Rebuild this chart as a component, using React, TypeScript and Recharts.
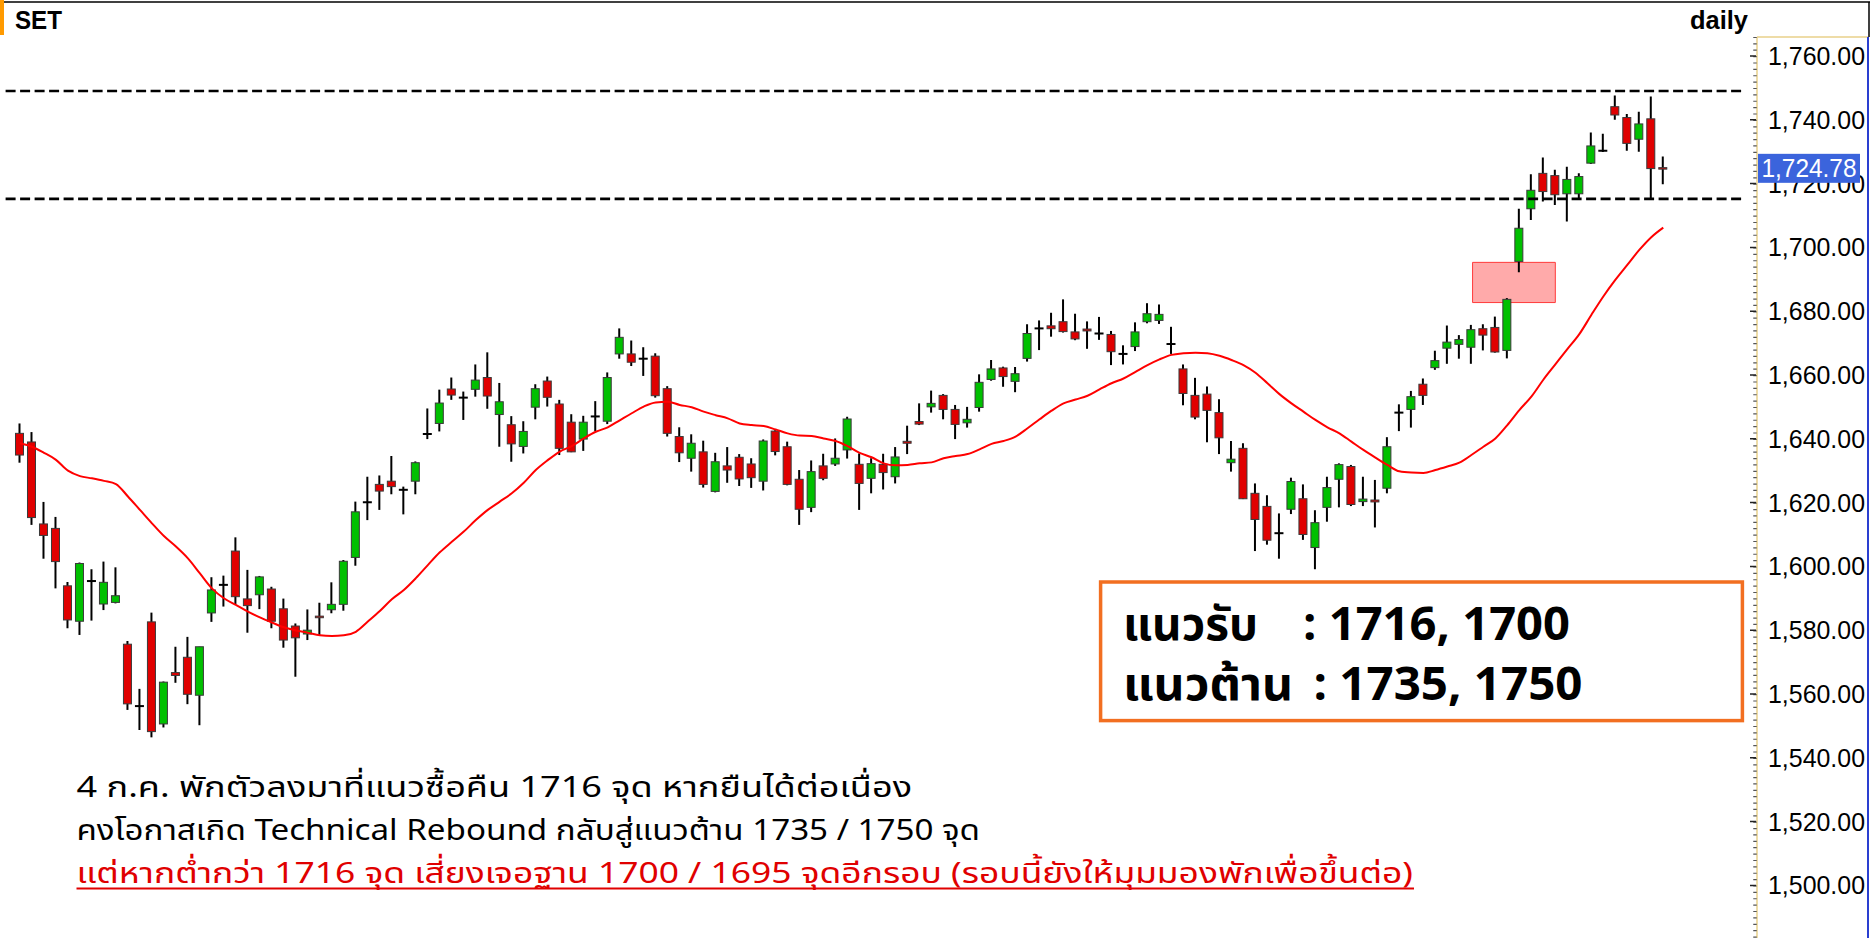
import { ComposedChart, Bar, Line, XAxis, YAxis, ReferenceLine, ReferenceArea } from "recharts";

const opens = [
  1641.7, 1639.0, 1613.3, 1611.9, 1593.9, 1582.8, 1595.4, 1588.2, 1588.7, 1575.6,
  1556.2, 1582.6, 1550.6, 1566.7, 1571.5, 1559.6, 1585.4, 1594.2, 1604.8, 1589.8,
  1591.1, 1592.9, 1586.7, 1581.3, 1578.8, 1584.4, 1586.4, 1588.1, 1602.8, 1620.1,
  1625.7, 1626.7, 1624.0, 1626.7, 1641.5, 1644.8, 1655.6, 1652.9, 1655.5, 1659.2,
  1647.6, 1644.4, 1637.6, 1649.9, 1658.1, 1650.9, 1645.2, 1639.9, 1647.0, 1645.5,
  1666.6, 1666.6, 1665.1, 1665.9, 1655.7, 1640.7, 1633.9, 1635.9, 1623.5, 1631.5,
  1634.2, 1632.1, 1626.7, 1642.4, 1637.5, 1627.3, 1618.5, 1631.5, 1632.1, 1636.5,
  1632.0, 1627.6, 1632.0, 1628.1, 1639.2, 1645.4, 1650.0, 1653.6, 1649.2, 1645.0,
  1649.8, 1658.6, 1662.2, 1658.0, 1665.2, 1674.6, 1675.4, 1676.7, 1673.5, 1674.4,
  1673.0, 1672.7, 1666.6, 1668.9, 1676.7, 1677.1, 1669.7, 1661.9, 1653.6, 1654.0,
  1648.2, 1632.5, 1637.0, 1622.9, 1618.8, 1610.4, 1617.9, 1621.2, 1605.9, 1618.5,
  1627.3, 1631.3, 1620.3, 1620.8, 1624.5, 1648.2, 1649.2, 1657.1, 1662.3, 1668.4,
  1669.6, 1668.7, 1674.5, 1674.9, 1667.7, 1695.6, 1712.1, 1723.2, 1722.5, 1716.8,
  1716.8, 1726.4, 1730.3, 1744.1, 1740.7, 1733.9, 1740.3, 1725.0,
];

const highs = [
  1644.8, 1642.1, 1620.2, 1615.5, 1595.1, 1601.2, 1599.1, 1601.5, 1599.7, 1576.6,
  1561.6, 1585.5, 1563.9, 1574.8, 1577.9, 1574.8, 1596.6, 1597.1, 1609.1, 1598.9,
  1597.0, 1593.6, 1589.9, 1582.1, 1586.5, 1588.6, 1595.0, 1602.0, 1620.3, 1628.1,
  1628.5, 1634.6, 1625.0, 1632.9, 1649.5, 1655.4, 1659.2, 1654.8, 1663.3, 1667.1,
  1657.5, 1647.1, 1645.5, 1657.1, 1659.5, 1652.2, 1647.7, 1647.2, 1651.8, 1660.8,
  1674.6, 1670.8, 1668.7, 1666.8, 1656.5, 1643.6, 1641.4, 1639.4, 1635.6, 1637.4,
  1635.2, 1633.9, 1639.8, 1642.7, 1639.1, 1630.2, 1633.2, 1635.3, 1640.1, 1646.9,
  1635.4, 1633.9, 1635.3, 1637.4, 1644.1, 1651.1, 1655.1, 1654.0, 1650.6, 1650.0,
  1660.2, 1664.7, 1662.6, 1662.5, 1675.9, 1677.1, 1679.5, 1683.7, 1679.2, 1676.8,
  1678.2, 1673.8, 1669.3, 1676.5, 1682.5, 1682.1, 1675.1, 1663.3, 1659.1, 1656.4,
  1652.4, 1639.3, 1638.6, 1626.0, 1622.3, 1616.6, 1627.8, 1625.7, 1617.6, 1628.1,
  1632.3, 1631.8, 1628.1, 1627.1, 1640.5, 1650.8, 1655.0, 1658.9, 1667.6, 1675.5,
  1672.5, 1675.7, 1675.9, 1678.3, 1684.1, 1712.1, 1722.9, 1728.2, 1724.3, 1725.3,
  1723.2, 1736.0, 1735.6, 1747.6, 1741.8, 1742.5, 1747.3, 1728.5,
];

const lows = [
  1632.5, 1613.0, 1602.4, 1593.1, 1580.6, 1578.5, 1583.0, 1586.3, 1588.4, 1555.0,
  1548.7, 1546.4, 1549.5, 1563.5, 1556.8, 1550.2, 1582.6, 1587.4, 1588.2, 1579.2,
  1586.6, 1580.6, 1574.5, 1565.4, 1576.9, 1578.5, 1585.3, 1586.1, 1600.2, 1614.5,
  1617.7, 1622.6, 1616.3, 1622.6, 1639.9, 1642.3, 1652.2, 1645.9, 1653.2, 1649.4,
  1637.5, 1632.8, 1635.4, 1646.1, 1650.1, 1634.9, 1635.8, 1636.2, 1642.4, 1644.6,
  1665.1, 1662.8, 1659.7, 1652.9, 1640.7, 1632.7, 1629.7, 1624.7, 1623.2, 1626.2,
  1625.2, 1624.6, 1623.8, 1634.8, 1625.4, 1613.0, 1617.0, 1627.0, 1631.5, 1633.8,
  1617.7, 1622.9, 1624.1, 1626.0, 1635.2, 1644.3, 1648.2, 1646.1, 1639.9, 1643.5,
  1648.5, 1658.2, 1656.3, 1654.6, 1664.2, 1667.8, 1672.0, 1673.3, 1670.9, 1668.2,
  1671.0, 1663.1, 1663.3, 1667.5, 1676.2, 1676.0, 1666.6, 1650.5, 1646.1, 1638.9,
  1635.2, 1629.7, 1621.1, 1604.8, 1606.8, 1602.4, 1616.4, 1608.3, 1599.1, 1614.0,
  1618.5, 1618.9, 1618.9, 1612.2, 1622.9, 1642.4, 1643.5, 1650.6, 1661.6, 1663.5,
  1665.1, 1663.5, 1667.7, 1667.0, 1665.2, 1692.2, 1708.6, 1714.4, 1713.3, 1708.1,
  1715.2, 1726.1, 1729.9, 1740.0, 1730.3, 1730.0, 1715.2, 1719.8,
];

const closes = [
  1634.9, 1615.3, 1609.7, 1601.5, 1583.2, 1600.9, 1595.4, 1595.0, 1590.8, 1556.9,
  1556.2, 1548.2, 1563.7, 1565.8, 1559.9, 1574.8, 1592.6, 1594.2, 1590.5, 1587.7,
  1596.7, 1582.8, 1576.9, 1577.6, 1580.0, 1583.9, 1588.1, 1601.6, 1617.1, 1620.1,
  1623.6, 1625.0, 1624.0, 1632.5, 1641.5, 1651.2, 1653.7, 1652.9, 1658.4, 1653.4,
  1651.6, 1638.4, 1642.3, 1655.7, 1653.0, 1637.0, 1635.9, 1645.2, 1647.0, 1659.2,
  1671.8, 1664.0, 1665.1, 1653.5, 1641.7, 1635.6, 1638.6, 1625.7, 1632.8, 1630.2,
  1627.4, 1627.8, 1639.3, 1636.0, 1625.7, 1617.9, 1629.7, 1627.6, 1633.9, 1646.2,
  1626.0, 1632.2, 1629.4, 1634.3, 1638.6, 1644.6, 1651.1, 1649.2, 1644.5, 1646.1,
  1657.7, 1661.9, 1659.5, 1660.4, 1673.0, 1674.6, 1674.5, 1673.6, 1671.3, 1673.8,
  1673.0, 1667.3, 1666.6, 1673.5, 1679.2, 1679.0, 1669.7, 1654.2, 1646.8, 1648.9,
  1640.3, 1633.6, 1621.2, 1614.7, 1608.2, 1610.4, 1626.6, 1610.0, 1613.7, 1624.7,
  1631.9, 1619.4, 1621.1, 1620.2, 1637.5, 1648.2, 1653.2, 1653.6, 1664.5, 1670.3,
  1671.1, 1674.2, 1672.5, 1667.2, 1683.7, 1706.0, 1717.9, 1717.5, 1716.5, 1721.3,
  1722.2, 1731.8, 1730.3, 1741.5, 1732.6, 1738.7, 1724.7, 1724.78,
];

// red average line
const avgLine = [
  1638.6, 1637.5, 1635.6, 1633.4, 1630.0, 1628.3, 1627.6, 1626.8, 1625.8, 1621.9,
  1617.7, 1613.5, 1609.5, 1606.2, 1602.5, 1597.8, 1593.1, 1590.0, 1587.9, 1585.8,
  1584.0, 1582.4, 1580.9, 1579.9, 1579.2, 1578.4, 1578.2, 1578.4, 1579.5, 1582.7,
  1586.0, 1589.7, 1592.6, 1596.3, 1600.4, 1604.4, 1607.7, 1610.9, 1614.5, 1617.7,
  1620.3, 1622.9, 1626.2, 1630.2, 1633.3, 1636.0, 1637.7, 1640.1, 1642.2, 1643.6,
  1645.8, 1648.0, 1650.1, 1651.4, 1651.6, 1650.6, 1649.9, 1648.5, 1647.4, 1646.4,
  1644.8, 1644.3, 1644.0, 1642.9, 1641.7, 1641.0, 1640.9, 1640.1, 1639.3, 1637.7,
  1635.6, 1634.2, 1632.3, 1631.7, 1631.8, 1632.3, 1632.6, 1633.9, 1634.6, 1635.2,
  1636.7, 1638.4, 1639.3, 1640.7, 1643.3, 1646.1, 1648.8, 1651.1, 1652.3, 1653.5,
  1655.5, 1657.4, 1658.9, 1661.0, 1663.1, 1664.9, 1666.3, 1666.8, 1667.0, 1666.8,
  1666.0, 1664.7, 1663.1, 1660.7, 1657.4, 1654.0, 1651.1, 1648.5, 1645.9, 1643.6,
  1641.7, 1639.1, 1636.5, 1634.1, 1631.8, 1629.8, 1629.4, 1629.3, 1630.2, 1631.3,
  1632.5, 1634.9, 1637.5, 1640.1, 1644.3, 1649.0, 1653.2, 1658.5, 1663.3, 1668.1,
  1672.8, 1678.8, 1684.6, 1689.8, 1694.5, 1699.2, 1703.2, 1706.2,
];

const priceTicks = [1500, 1520, 1540, 1560, 1580, 1600, 1620, 1640, 1660, 1680, 1700, 1720, 1740, 1760];
const lastPrice = 1724.78;
const resistance = 1749;
const support = 1715.2;
const gapZone = { x1: 121.1, x2: 128, y1: 1682.7, y2: 1695.3 };

const bottomNotes = [
  "4 ก.ค. พักตัวลงมาที่แนวซื้อคืน 1716 จุด หากยืนได้ต่อเนื่อง",
  "คงโอกาสเกิด Technical Rebound กลับสู่แนวต้าน 1735 / 1750 จุด",
  "แต่หากต่ำกว่า 1716 จุด เสี่ยงเจอฐาน 1700 / 1695 จุดอีกรอบ (รอบนี้ยังให้มุมมองพักเพื่อขึ้นต่อ)",
];

const GREEN = "#00c000";
const RED = "#e00000";
const W = 1874;
const H = 938;

const candles = opens.map((o, i) => ({
  i,
  open: o,
  high: highs[i],
  low: lows[i],
  close: closes[i],
  ma: avgLine[i],
}));

const fmt = (v: number) =>
  v.toLocaleString("en-US", { minimumFractionDigits: 2, maximumFractionDigits: 2 });

function CandleShape(props: any) {
  const { x, y, width, height, payload } = props;
  if (!payload || height == null) return null;
  const { open, close, high, low } = payload;
  const top = Math.min(y, y + height);
  const h = Math.abs(height);
  const k = high > low ? h / (high - low) : 0;
  const py = (v: number) => top + (high - v) * k;
  const cx = x + width / 2;
  const bTop = py(Math.max(open, close));
  const bBot = py(Math.min(open, close));
  return (
    <g>
      <line x1={cx} x2={cx} y1={top} y2={top + h} stroke="#000" strokeWidth={2} />
      {open === close ? (
        <line x1={x} x2={x + width} y1={bTop} y2={bTop} stroke="#000" strokeWidth={2} />
      ) : (
        <rect
          x={x + 0.5}
          y={bTop}
          width={width - 1}
          height={Math.max(bBot - bTop, 1.5)}
          fill={close > open ? GREEN : RED}
          stroke="#3a3a3a"
          strokeWidth={1}
        />
      )}
    </g>
  );
}

function PriceTick(props: any) {
  const { y, payload } = props;
  const v = payload.value;
  if (v === lastPrice) {
    return (
      <g>
        <rect x={1758} y={y - 14.5} width={102} height={29} fill="#3b64dc" />
        <text x={1761.5} y={y + 9} fontSize={25} fill="#fff" fontFamily="'Liberation Sans', Arial, sans-serif"
          textLength={95} lengthAdjust="spacingAndGlyphs">
          {fmt(v)}
        </text>
      </g>
    );
  }
  return (
    <text x={1768} y={y + 9} fontSize={25} fill="#000" fontFamily="'Liberation Sans', Arial, sans-serif"
      textLength={97} lengthAdjust="spacingAndGlyphs">
      {fmt(v)}
    </text>
  );
}

const thai = "'Noto Sans Thai', 'Noto Sans Thai UI', 'Noto Sans', 'DejaVu Sans', sans-serif";

export default function App() {
  return (
    <div style={{ position: "relative", width: W, height: H, background: "#fff", overflow: "hidden" }}>
      <style>{"body{margin:0;background:#fff}"}</style>
      <ComposedChart width={W} height={H} data={candles} margin={{ top: 17.7, right: 0, bottom: 1.6, left: 2 }}>
        <XAxis type="number" dataKey="i" domain={[-1.5, 144.73]} allowDataOverflow hide />
        <YAxis
          orientation="right"
          width={118}
          domain={[1484, 1772]}
          allowDataOverflow
          ticks={[...priceTicks, lastPrice]}
          interval={0}
          axisLine={false}
          tickLine={false}
          tick={(p: any) => <PriceTick {...p} />}
        />
        <ReferenceArea
          x1={gapZone.x1}
          x2={gapZone.x2}
          y1={gapZone.y1}
          y2={gapZone.y2}
          fill="#ffaaaa"
          fillOpacity={1}
          stroke="#ff3b3b"
          strokeWidth={1}
        />
        <ReferenceLine
          segment={[{ x: -1.2, y: resistance }, { x: 143.6, y: resistance }]}
          stroke="#000"
          strokeWidth={2.6}
          strokeDasharray="10 4.5"
        />
        <ReferenceLine
          segment={[{ x: -1.2, y: support }, { x: 143.6, y: support }]}
          stroke="#000"
          strokeWidth={2.6}
          strokeDasharray="10 4.5"
        />
        <Line
          dataKey="ma"
          type="monotone"
          stroke="#ff0000"
          strokeWidth={2}
          dot={false}
          activeDot={false}
          isAnimationActive={false}
        />
        <Bar dataKey={(d: any) => [d.low, d.high]} barSize={9} shape={CandleShape} isAnimationActive={false} />
      </ComposedChart>

      <svg width={W} height={H} style={{ position: "absolute", left: 0, top: 0, pointerEvents: "none" }}>
        {/* frame */}
        <line x1={0} x2={1870} y1={2} y2={2} stroke="#000" strokeWidth={1.5} />
        <line x1={1869} x2={1869} y1={2} y2={37} stroke="#000" strokeWidth={1.5} />
        <rect x={0} y={0} width={4} height={35} fill="#ff9a00" />
        <text x={15} y={29} fontSize={25} fontWeight="bold" fontFamily="'Liberation Sans', Arial, sans-serif"
          textLength={47} lengthAdjust="spacingAndGlyphs">SET</text>
        <text x={1690} y={29} fontSize={25} fontWeight="bold" fontFamily="'Liberation Sans', Arial, sans-serif"
          textLength={58} lengthAdjust="spacingAndGlyphs">daily</text>

        {/* price panel border + minor ticks */}
        <line x1={1757} x2={1868} y1={37} y2={37} stroke="#e8d08a" strokeWidth={1.5} />
        <line x1={1757} x2={1757} y1={37} y2={H} stroke="#e8d08a" strokeWidth={1.5} />
        <line x1={1868} x2={1868} y1={37} y2={H} stroke="#2a3fd0" strokeWidth={2} />
        <line x1={1755} x2={1755} y1={37} y2={H} stroke="#555" strokeWidth={3.5}
          strokeDasharray="1.2 5.18" strokeDashoffset={0.14} />
        <line x1={1753} x2={1753} y1={37} y2={H} stroke="#222" strokeWidth={6}
          strokeDasharray="1.5 62.3" strokeDashoffset={-18.25} />

        {/* support / resistance box */}
        <rect x={1100.6} y={582} width={641.8} height={138.6} fill="#fff" stroke="#f26f21" strokeWidth={3.5} />
        <g fontFamily={thai} fontWeight="bold" fontSize={46} fill="#000">
          <text x={1123} y={639.5} textLength={135} lengthAdjust="spacingAndGlyphs">แนวรับ</text>
          <text x={1303} y={639.5} textLength={267} lengthAdjust="spacingAndGlyphs">: 1716, 1700</text>
          <text x={1123} y={699.5} textLength={170} lengthAdjust="spacingAndGlyphs">แนวต้าน</text>
          <text x={1313.5} y={699.5} textLength={269} lengthAdjust="spacingAndGlyphs">: 1735, 1750</text>
        </g>

        {/* notes */}
        <g fontFamily={thai} fontSize={29}>
          <text x={76.5} y={797} fill="#000" textLength={835.5} lengthAdjust="spacingAndGlyphs">{bottomNotes[0]}</text>
          <text x={76.5} y={840} fill="#000" textLength={903.5} lengthAdjust="spacingAndGlyphs">{bottomNotes[1]}</text>
          <text x={76.5} y={883} fill="#e00000" textLength={1336.5} lengthAdjust="spacingAndGlyphs">{bottomNotes[2]}</text>
        </g>
        <line x1={76.5} x2={1414} y1={888.5} y2={888.5} stroke="#e00000" strokeWidth={2} />
      </svg>
    </div>
  );
}
